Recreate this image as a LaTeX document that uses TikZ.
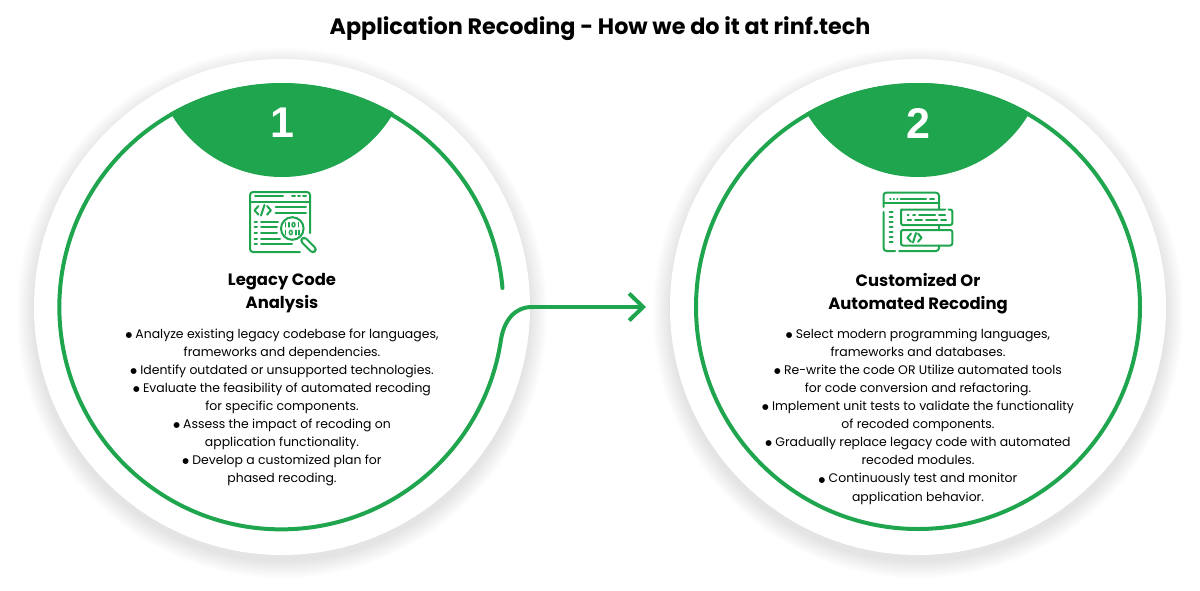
\documentclass[tikz,border=0pt]{standalone}
\usepackage{fontspec}
\setmainfont{Poppins}
\newfontfamily\numfont{Liberation Sans}
\newfontfamily\dotfont{DejaVu Sans}
\newcommand{\recdot}{\raisebox{0.9pt}{\dotfont\fontsize{7.6}{18.1}\selectfont ●}\ }
\usetikzlibrary{arrows.meta}
\definecolor{recgreen}{HTML}{1FA54D}
\tikzset{
  ringline/.style={draw=recgreen,line width=4pt,line cap=round},
  iconline/.style={draw=recgreen,line width=2pt,line cap=round,line join=round},
  iconthin/.style={draw=recgreen,line width=1.4pt,line cap=round,line join=round},
  headtext/.style={font=\fontsize{16.4}{23}\selectfont\bfseries,align=center,text=black},
  bodytext/.style={font=\fontsize{12.45}{18.1}\selectfont,align=center,text=black},
  numtext/.style={font=\numfont\fontsize{43}{43}\selectfont\bfseries,text=white},
}
\begin{document}
\begin{tikzpicture}[x=1pt,y=-1pt]
\useasboundingbox (0,0) rectangle (1200,590);
\fill[white] (0,0) rectangle (1200,590);
\coordinate (centerone) at (282,307);
\coordinate (centertwo) at (918,307);
% shadows and white discs
\foreach \c/\x in {centerone/282,centertwo/918}{
  \foreach \r in {249,251,...,265}{
    \fill[black,opacity=0.012] (\x,313) circle (\r);
  }
  \fill[white] (\c) circle (248);
}
% green lenses
\begin{scope}
  \clip (centerone) circle (224);
  \fill[recgreen] (282,48) circle (129);
\end{scope}
\begin{scope}
  \clip (centertwo) circle (224);
  \fill[recgreen] (918,48) circle (129);
\end{scope}
% rings and arrow
\coordinate (arrowend) at (646,307);
\draw[ringline] (centertwo) circle (222);
\draw[ringline] (502.5,288) arc[start angle=-5,end angle=-351.5,radius=222] .. controls (504,320) and (515,307) .. (532,307);
\draw[ringline,-{Straight Barb[length=14pt,width=27pt,line width=4pt]}] (532,307) -- (arrowend);
% labels
\node (titlelabel) at (600,28.5) {\fontsize{22.3}{26}\selectfont\bfseries Application Recoding - How we do it at rinf.tech};
\node[numtext] (numone) at (282,123) {1};
\node[numtext] (numtwo) at (918,123) {2};
\node[headtext] (headone) at (282,293.5) {Legacy Code\\Analysis};
\node[headtext] (headtwo) at (918,293.5) {Customized Or\\Automated Recoding};
\node[bodytext] (textone) at (282,407.5) {\recdot Analyze existing legacy codebase for languages,\\frameworks and dependencies.\\\recdot Identify outdated or unsupported technologies.\\\recdot Evaluate the feasibility of automated recoding\\for specific components.\\\recdot Assess the impact of recoding on\\application functionality.\\\recdot Develop a customized plan for\\phased recoding.};
\node[bodytext] (texttwo) at (918,416.5) {\recdot Select modern programming languages,\\frameworks and databases.\\\recdot Re-write the code OR Utilize automated tools\\for code conversion and refactoring.\\\recdot Implement unit tests to validate the functionality\\of recoded components.\\\recdot Gradually replace legacy code with automated\\recoded modules.\\\recdot Continuously test and monitor\\application behavior.};
% icon one
\draw[iconline] (300,252) -- (253,252) arc[start angle=90,end angle=180,radius=3] -- (250,195) arc[start angle=180,end angle=270,radius=3] -- (307,192) arc[start angle=-90,end angle=0,radius=3] -- (310,233);
\draw[iconline] (250,202) -- (310,202);
\draw[iconline] (255,196) -- (283,196) (292,196) -- (295,196) (298,196) -- (300,196) (303,196) -- (306,196);
\draw[iconline] (258.5,206) -- (254.5,210.3) -- (258.5,214.7) (267,206) -- (271,210.3) -- (267,214.7) (264.5,205) -- (261,215.5);
\draw[iconline] (275.5,207.3) -- (306,207.3) (275.5,212.7) -- (306,212.7);
\foreach \y/\e in {221.7/278,227.3/277,233/277,239/280,244.3/292}{
  \draw[iconline] (254.5,\y) -- (257,\y) (261,\y) -- (\e,\y);
}
\fill[white] (292.3,228.5) circle (12);
\draw[iconline] (292.3,228.5) circle (11.3);
\draw[recgreen,line width=7.5pt,line cap=round] (304,240.5) -- (313,249.5);
\draw[white,line width=3.4pt,line cap=round] (304,240.5) -- (313,249.5);
\draw[iconthin] (285.7,222.5) -- (285.7,227) (289,222.5) -- (289,227) (298.5,222.5) -- (298.5,227);
\draw[iconthin] (293.5,224.7) ellipse (1.5 and 2.2);
\draw[iconthin] (285.7,230.3) -- (285.7,234.8) (296,230.3) -- (296,234.8) (299,230.3) -- (299,234.8);
\draw[iconthin] (290.8,232.5) ellipse (1.5 and 2.2);
% icon two
\draw[iconline] (883.5,207) -- (883.5,195.5) arc[start angle=180,end angle=270,radius=3] -- (936,192.7) arc[start angle=-90,end angle=0,radius=3] -- (939,209);
\draw[iconline] (883.5,212) -- (883.5,248) arc[start angle=180,end angle=90,radius=3] -- (895,251) (899,251) -- (936,251) arc[start angle=90,end angle=0,radius=3] -- (939,245.5);
\draw[iconline] (939,225) -- (939,230);
\draw[iconline] (883.5,203.3) -- (939,203.3);
\draw[iconline] (890,198.5) -- (890.5,198.5) (893.5,198.5) -- (894,198.5) (897,198.5) -- (897.5,198.5) (900.5,198.5) -- (926,198.5) (930,198.5) -- (934,198.5);
\foreach \y in {212.3,217.3,222.3,227.3,232.3,237,242}{
  \draw[iconline] (889.5,\y) -- (892.5,\y);
}
\draw[iconline,rounded corners=2pt] (945,209.5) -- (903,209.5) -- (901,209.5) -- (901,225) -- (952.3,225) -- (952.3,209.5) -- (948.5,209.5);
\draw[iconline,rounded corners=2pt] (901,230) rectangle (952.3,245.5);
\draw[iconline] (907.5,214.7) -- (908.5,214.7) (913,214.7) -- (915,214.7) (919,214.7) -- (935,214.7) (939,214.7) -- (945,214.7);
\draw[iconline] (907.5,220) -- (911,220) (915,220) -- (922,220) (926,220) -- (937,220) (941,220) -- (946,220);
\draw[iconline] (911,233.5) -- (907.5,237.7) -- (911,241.8) (918,233.5) -- (921.5,237.7) -- (918,241.8) (916,233) -- (913,242.5);
\end{tikzpicture}
\end{document}
